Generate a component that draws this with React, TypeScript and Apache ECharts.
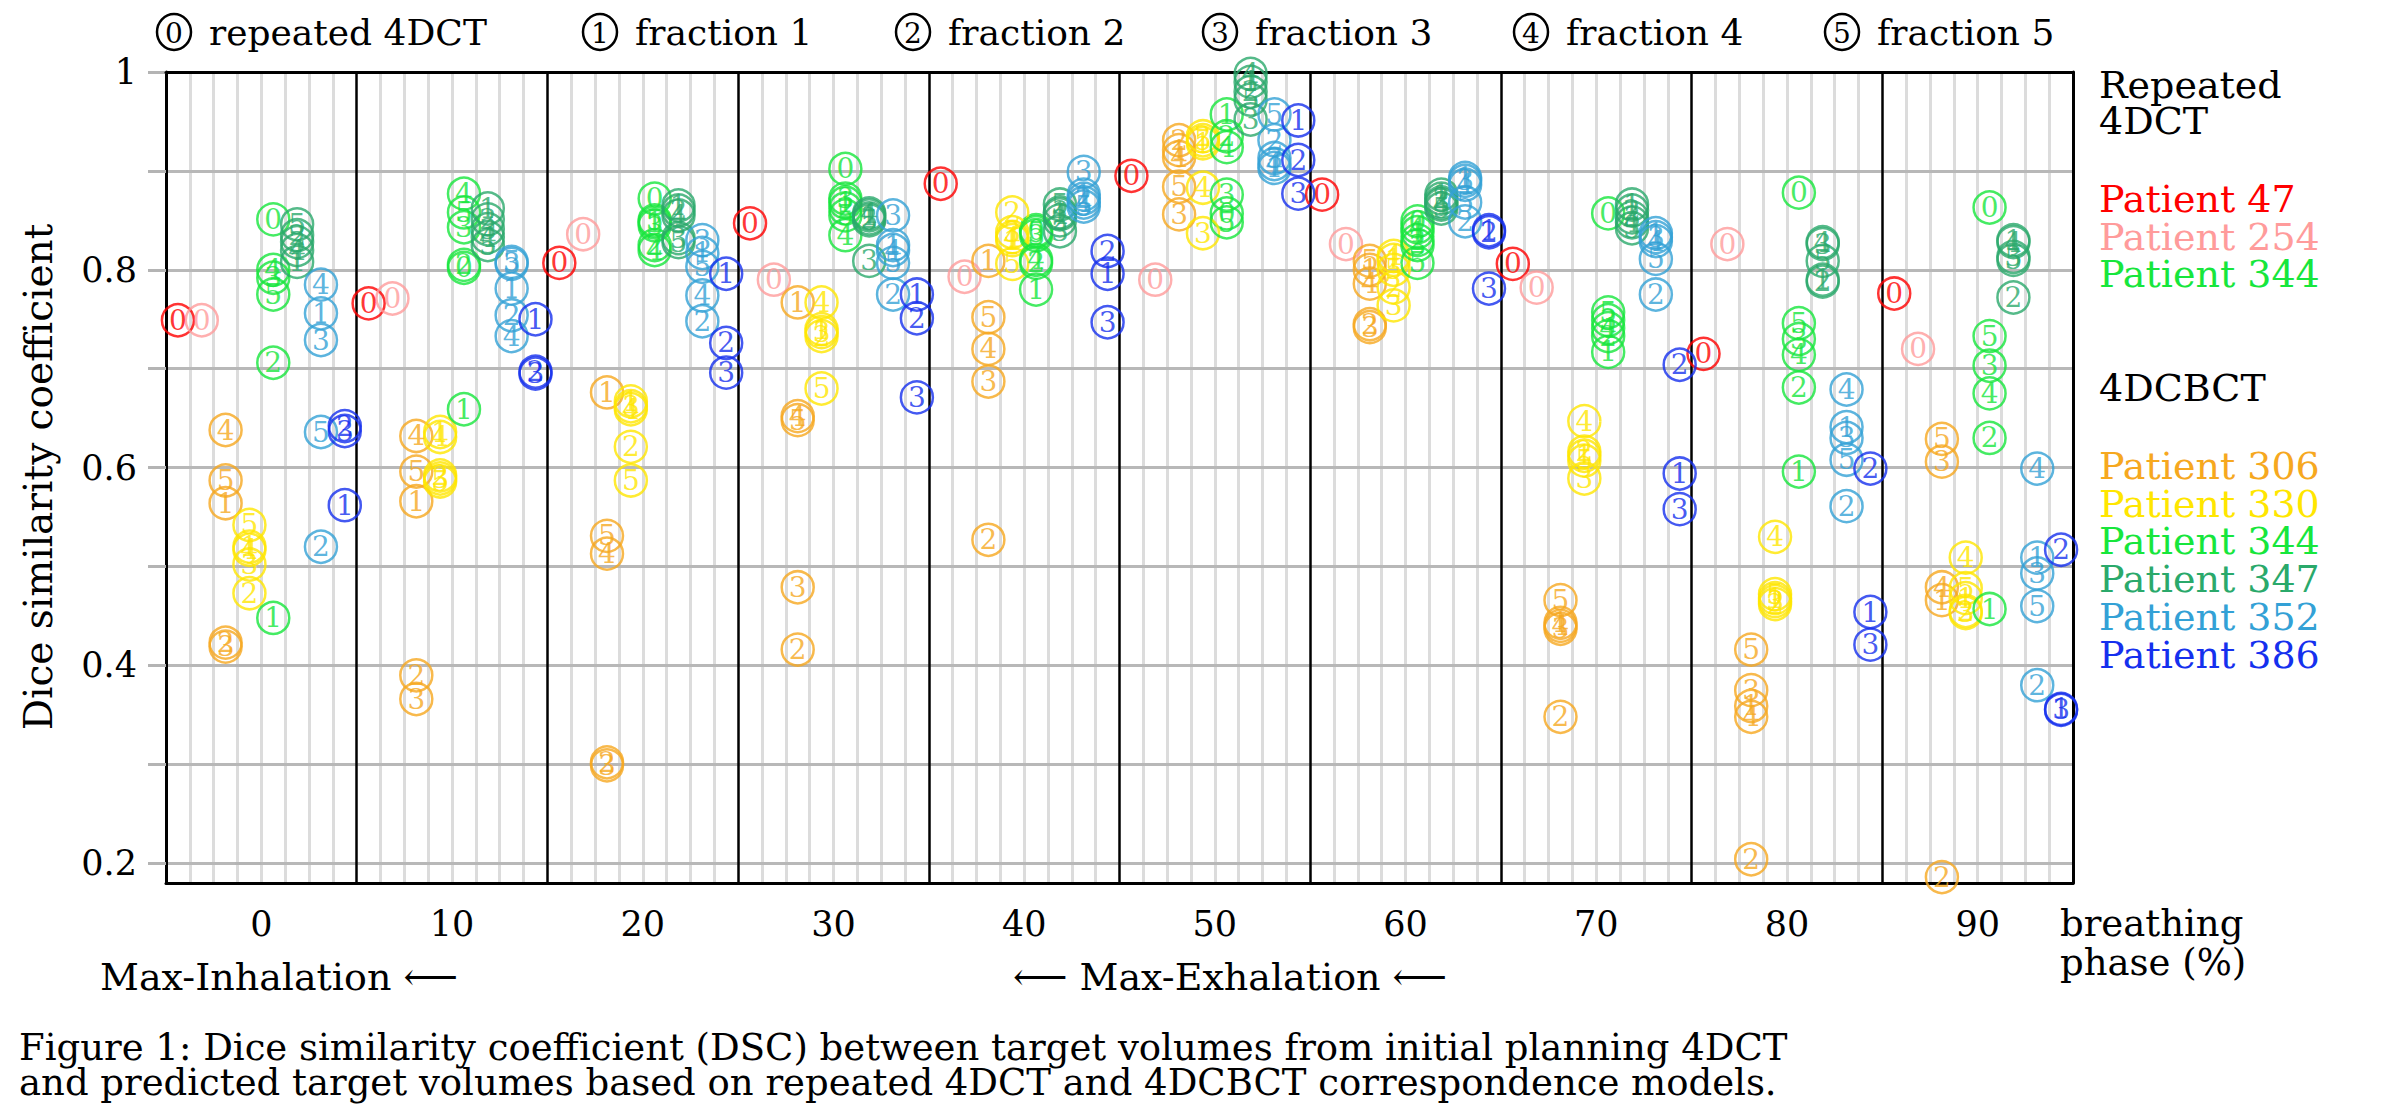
import React, { useEffect, useRef } from "react";
import * as echarts from "echarts";

// ---------- axes ----------
const phases = [0, 10, 20, 30, 40, 50, 60, 70, 80, 90];
const xTickLabels = [0, 10, 20, 30, 40, 50, 60, 70, 80, 90];
const groupSeparators = [5, 15, 25, 35, 45, 55, 65, 75, 85];
const yTickValues = [0.2, 0.3, 0.4, 0.5, 0.6, 0.7, 0.8, 0.9, 1.0];
const yLabelValues = [0.2, 0.4, 0.6, 0.8, 1.0];

// ---------- repeated 4DCT (marker 0), one value per phase ----------
const p47_rep = [0.749, 0.766, 0.807, 0.847, 0.887, 0.895, 0.876, 0.806, 0.715, 0.776];
const p254_rep = [0.749, 0.771, 0.836, 0.79, 0.793, 0.79, 0.826, 0.782, 0.826, 0.72];
const p344_rep = [0.851, 0.802, 0.872, 0.902, 0.84, 0.857, 0.849, 0.857, 0.878, 0.863];

// ---------- 4DCBCT fractions (markers 1..5) ----------
const p306_f1 = [0.564, 0.566, 0.676, 0.767, 0.809, 0.921, 0.8, 0.443, 0.359, 0.466];
const p306_f2 = [0.423, 0.39, 0.302, 0.416, 0.527, 0.931, 0.745, 0.348, 0.204, 0.186];
const p306_f3 = [0.419, 0.366, 0.299, 0.479, 0.687, 0.856, 0.742, 0.437, 0.375, 0.606];
const p306_f4 = [0.638, 0.632, 0.513, 0.652, 0.72, 0.914, 0.786, 0.44, 0.348, 0.479];
const p306_f5 = [0.587, 0.596, 0.531, 0.648, 0.752, 0.884, 0.809, 0.466, 0.416, 0.629];

const p330_f1 = [0.52, 0.636, 0.667, 0.74, 0.83, 0.928, 0.81, 0.612, 0.468, 0.468];
const p330_f2 = [0.473, 0.592, 0.621, 0.733, 0.858, 0.935, 0.782, 0.616, 0.462, 0.455];
const p330_f3 = [0.502, 0.589, 0.662, 0.737, 0.838, 0.837, 0.764, 0.589, 0.465, 0.453];
const p330_f4 = [0.517, 0.631, 0.659, 0.767, 0.833, 0.883, 0.814, 0.647, 0.53, 0.509];
const p330_f5 = [0.542, 0.586, 0.587, 0.68, 0.806, 0.931, 0.8, 0.607, 0.472, 0.478];

const p344_f1 = [0.448, 0.659, 0.848, 0.868, 0.78, 0.957, 0.838, 0.717, 0.596, 0.457];
const p344_f2 = [0.706, 0.805, 0.825, 0.862, 0.807, 0.935, 0.83, 0.733, 0.681, 0.63];
const p344_f3 = [0.792, 0.843, 0.845, 0.872, 0.835, 0.876, 0.825, 0.749, 0.73, 0.703];
const p344_f4 = [0.8, 0.877, 0.82, 0.835, 0.81, 0.924, 0.843, 0.741, 0.714, 0.675];
const p344_f5 = [0.775, 0.858, 0.85, 0.855, 0.838, 0.848, 0.807, 0.757, 0.746, 0.733];

const p347_f1 = [0.808, 0.862, 0.865, 0.855, 0.858, 0.99, 0.876, 0.866, 0.79, 0.83];
const p347_f2 = [0.835, 0.851, 0.86, 0.852, 0.85, 0.98, 0.872, 0.86, 0.788, 0.772];
const p347_f3 = [0.828, 0.841, 0.832, 0.809, 0.839, 0.952, 0.868, 0.853, 0.826, 0.813];
const p347_f4 = [0.82, 0.833, 0.855, 0.857, 0.856, 0.998, 0.866, 0.848, 0.828, 0.828];
const p347_f5 = [0.846, 0.825, 0.828, 0.85, 0.866, 0.972, 0.862, 0.842, 0.809, 0.81];

const p352_f1 = [0.756, 0.781, 0.817, 0.825, 0.876, 0.903, 0.893, 0.837, 0.641, 0.509];
const p352_f2 = [0.52, 0.754, 0.748, 0.775, 0.872, 0.931, 0.849, 0.775, 0.561, 0.38];
const p352_f3 = [0.729, 0.806, 0.83, 0.855, 0.899, 0.913, 0.89, 0.833, 0.63, 0.493];
const p352_f4 = [0.785, 0.733, 0.774, 0.82, 0.868, 0.907, 0.886, 0.829, 0.679, 0.599];
const p352_f5 = [0.636, 0.808, 0.803, 0.807, 0.864, 0.957, 0.868, 0.811, 0.608, 0.46];

const p386_f1 = [0.562, 0.75, 0.796, 0.775, 0.796, 0.951, 0.84, 0.594, 0.454, 0.356];
const p386_f2 = [0.642, 0.697, 0.726, 0.751, 0.819, 0.911, 0.838, 0.704, 0.599, 0.517];
const p386_f3 = [0.637, 0.695, 0.696, 0.671, 0.747, 0.877, 0.781, 0.558, 0.421, 0.355];

// ---------- legend texts ----------
const topLegendLabels = ["repeated 4DCT", "fraction 1", "fraction 2", "fraction 3", "fraction 4", "fraction 5"];
const captionLines = [
  "Figure 1: Dice similarity coefficient (DSC) between target volumes from initial planning 4DCT",
  "and predicted target volumes based on repeated 4DCT and 4DCBCT correspondence models.",
];

const FONT = "'DejaVu Serif', 'Liberation Serif', serif";
const C = {
  red: "#ff0000",
  pink: "#ff9b9b",
  orange: "#f6a81f",
  yellow: "#ffe600",
  green: "#17e63c",
  teal: "#2aa96b",
  lightblue: "#33a1d6",
  blue: "#1530ee",
};

type PatientDef = { name: string; color: string; slot: number; fractions: [number, number[]][] };

const patients: PatientDef[] = [
  { name: "Patient 47", color: C.red, slot: 0, fractions: [[0, p47_rep]] },
  { name: "Patient 254", color: C.pink, slot: 1, fractions: [[0, p254_rep]] },
  { name: "Patient 344 (4DCT)", color: C.green, slot: 4, fractions: [[0, p344_rep]] },
  { name: "Patient 306", color: C.orange, slot: 2, fractions: [[1, p306_f1], [2, p306_f2], [3, p306_f3], [4, p306_f4], [5, p306_f5]] },
  { name: "Patient 330", color: C.yellow, slot: 3, fractions: [[1, p330_f1], [2, p330_f2], [3, p330_f3], [4, p330_f4], [5, p330_f5]] },
  { name: "Patient 344", color: C.green, slot: 4, fractions: [[1, p344_f1], [2, p344_f2], [3, p344_f3], [4, p344_f4], [5, p344_f5]] },
  { name: "Patient 347", color: C.teal, slot: 5, fractions: [[1, p347_f1], [2, p347_f2], [3, p347_f3], [4, p347_f4], [5, p347_f5]] },
  { name: "Patient 352", color: C.lightblue, slot: 6, fractions: [[1, p352_f1], [2, p352_f2], [3, p352_f3], [4, p352_f4], [5, p352_f5]] },
  { name: "Patient 386", color: C.blue, slot: 7, fractions: [[1, p386_f1], [2, p386_f2], [3, p386_f3]] },
];

const rightLegend: { text: string; color: string; y: number }[] = [
  { text: "Repeated", color: "#000", y: 85 },
  { text: "4DCT", color: "#000", y: 121 },
  { text: "Patient 47", color: C.red, y: 199 },
  { text: "Patient 254", color: C.pink, y: 237 },
  { text: "Patient 344", color: C.green, y: 274 },
  { text: "4DCBCT", color: "#000", y: 388 },
  { text: "Patient 306", color: C.orange, y: 466 },
  { text: "Patient 330", color: C.yellow, y: 504 },
  { text: "Patient 344", color: C.green, y: 541 },
  { text: "Patient 347", color: C.teal, y: 579 },
  { text: "Patient 352", color: C.lightblue, y: 617 },
  { text: "Patient 386", color: C.blue, y: 655 },
];

const topLegendX = [174, 600, 913, 1220, 1531, 1842];

function slotOffset(slot: number) {
  return -4.375 + 1.25 * slot;
}

function minorGridValues() {
  const out: number[] = [];
  for (let k = 1; k < 80; k++) {
    if (k % 8 === 0) continue;
    out.push(-5 + 1.25 * k);
  }
  return out;
}

export default function App() {
  const ref = useRef<HTMLDivElement>(null);

  useEffect(() => {
    document.body.style.margin = "0";
    if (!ref.current) return;
    const chart = echarts.init(ref.current, undefined, { renderer: "svg" });

    const series: any[] = patients.map((p) => ({
      type: "scatter",
      name: p.name,
      silent: true,
      clip: false,
      symbol: "circle",
      symbolSize: 32,
      xAxisIndex: 0,
      yAxisIndex: 0,
      itemStyle: { color: "rgba(0,0,0,0)", borderColor: p.color, borderWidth: 2.5 },
      label: {
        show: true,
        position: "inside",
        formatter: (q: any) => String(q.value[2]),
        color: p.color,
        fontSize: 28,
        fontFamily: FONT,
      },
      emphasis: { disabled: true },
      data: p.fractions.flatMap(([lab, vals]) =>
        vals.map((v, i) => [phases[i] + slotOffset(p.slot), v, lab])
      ),
    }));

    const graphics: any[] = [];
    // top legend
    topLegendX.forEach((cx, i) => {
      graphics.push({
        type: "ellipse",
        shape: { cx, cy: 32, rx: 17, ry: 18 },
        style: { fill: "none", stroke: "#000", lineWidth: 2.5 },
        silent: true,
      });
      graphics.push({
        type: "text",
        x: cx,
        y: 33,
        style: { text: String(i), fill: "#000", font: `28px ${FONT}`, textAlign: "center", textVerticalAlign: "middle" },
        silent: true,
      });
      graphics.push({
        type: "text",
        x: cx + 35,
        y: 32,
        style: { text: topLegendLabels[i], fill: "#000", font: `36px ${FONT}`, textAlign: "left", textVerticalAlign: "middle" },
        silent: true,
      });
    });
    // right legend
    rightLegend.forEach((r) => {
      graphics.push({
        type: "text",
        x: 2099,
        y: r.y,
        style: { text: r.text, fill: r.color, font: `38px ${FONT}`, textAlign: "left", textVerticalAlign: "middle" },
        silent: true,
      });
    });
    // y axis name
    graphics.push({
      type: "text",
      x: 38,
      y: 477,
      rotation: Math.PI / 2,
      style: { text: "Dice similarity coefficient", fill: "#000", font: `39px ${FONT}`, textAlign: "center", textVerticalAlign: "middle" },
      silent: true,
    });
    // x axis name
    graphics.push({
      type: "text",
      x: 2060,
      y: 923,
      style: { text: "breathing", fill: "#000", font: `37px ${FONT}`, textAlign: "left", textVerticalAlign: "middle" },
      silent: true,
    });
    graphics.push({
      type: "text",
      x: 2060,
      y: 962,
      style: { text: "phase (%)", fill: "#000", font: `37px ${FONT}`, textAlign: "left", textVerticalAlign: "middle" },
      silent: true,
    });
    // inhalation / exhalation
    graphics.push({
      type: "text",
      x: 100,
      y: 977,
      style: { text: "Max-Inhalation \u27F5", fill: "#000", font: `38px ${FONT}`, textAlign: "left", textVerticalAlign: "middle" },
      silent: true,
    });
    graphics.push({
      type: "text",
      x: 1230,
      y: 977,
      style: { text: "\u27F5 Max-Exhalation \u27F5", fill: "#000", font: `38px ${FONT}`, textAlign: "center", textVerticalAlign: "middle" },
      silent: true,
    });
    // caption
    captionLines.forEach((line, i) => {
      graphics.push({
        type: "text",
        x: 19,
        y: 1047 + i * 35,
        style: { text: line, fill: "#000", font: `37px ${FONT}`, textAlign: "left", textVerticalAlign: "middle" },
        silent: true,
      });
    });

    const option: any = {
      animation: false,
      backgroundColor: "#fff",
      textStyle: { fontFamily: FONT },
      grid: { left: 166, top: 72, width: 1907, height: 811, containLabel: false, show: false },
      xAxis: [
        {
          type: "value",
          min: -5,
          max: 95,
          position: "bottom",
          z: 0,
          axisLine: { show: true, onZero: false, lineStyle: { color: "#000", width: 3 } },
          axisTick: { show: false, customValues: minorGridValues() },
          splitLine: { show: true, lineStyle: { color: "#dcdcdc", width: 3 } },
          axisLabel: {
            show: true,
            customValues: xTickLabels,
            fontSize: 35,
            fontFamily: FONT,
            color: "#000",
            margin: 23,
          },
        },
        {
          type: "value",
          min: -5,
          max: 95,
          position: "top",
          z: 1.5,
          axisLine: { show: true, onZero: false, lineStyle: { color: "#000", width: 3 } },
          axisTick: { show: false, customValues: groupSeparators },
          splitLine: { show: true, lineStyle: { color: "#000", width: 2.5 } },
          axisLabel: { show: false },
        },
      ],
      yAxis: [
        {
          type: "value",
          min: 0.18,
          max: 1,
          position: "left",
          z: 1,
          axisLine: { show: true, onZero: false, lineStyle: { color: "#000", width: 3 } },
          axisTick: { show: true, inside: false, length: 18, customValues: yTickValues, lineStyle: { color: "#b4b4b4", width: 3 } },
          splitLine: { show: true, lineStyle: { color: "#b8b8b8", width: 3 } },
          axisLabel: { show: false },
        },
        {
          type: "value",
          min: 0.18,
          max: 1,
          position: "left",
          z: 1,
          axisLine: { show: false },
          axisTick: { show: true, inside: false, length: 26, customValues: yLabelValues, lineStyle: { color: "#b4b4b4", width: 3 } },
          splitLine: { show: false },
          axisLabel: {
            show: true,
            customValues: yLabelValues,
            formatter: (v: number) => (Math.abs(v - 1) < 1e-9 ? "1" : v.toFixed(1)),
            fontSize: 35,
            fontFamily: FONT,
            color: "#000",
            margin: 29,
          },
        },
        {
          type: "value",
          min: 0.18,
          max: 1,
          position: "right",
          z: 1.5,
          axisLine: { show: true, onZero: false, lineStyle: { color: "#000", width: 3 } },
          axisTick: { show: false },
          splitLine: { show: false },
          axisLabel: { show: false },
        },
      ],
      series,
      graphic: { elements: graphics },
    };

    chart.setOption(option);
    return () => {
      chart.dispose();
    };
  }, []);

  return <div ref={ref} style={{ width: "2402px", height: "1118px" }} />;
}
